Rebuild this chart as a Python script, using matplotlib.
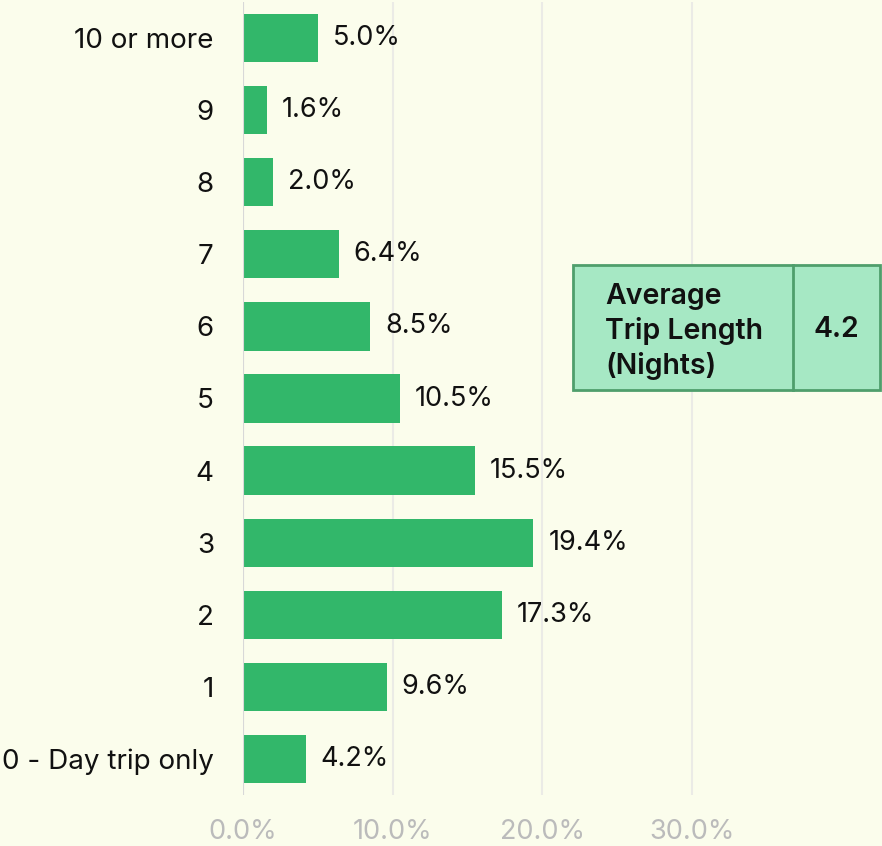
import matplotlib.pyplot as plt
from matplotlib.patches import Rectangle

plt.rcParams['font.family'] = ['Inter', 'DejaVu Sans']

categories = ["0 - Day trip only", "1", "2", "3", "4", "5", "6", "7", "8", "9", "10 or more"]
shares = [4.2, 9.6, 17.3, 19.4, 15.5, 10.5, 8.5, 6.4, 2.0, 1.6, 5.0]
ticks = [0, 10, 20, 30]
avg_label = "Average\nTrip Length\n(Nights)"
avg_value = "4.2"

bg = "#fbfdec"
bar_color = "#32b76a"

fig = plt.figure(figsize=(8.82, 8.46), dpi=100, facecolor=bg)
W, H = 882, 846
ax = fig.add_axes([243 / W, 1 - 795 / H, (W - 243) / W, (795 - 2) / H])
ax.set_facecolor(bg)

y = list(range(len(categories)))
ax.barh(y, shares, height=0.67, color=bar_color, zorder=3)
for yi, v in zip(y, shares):
    ax.text(v + 1.0, yi, f"{v:.1f}%", va="center", ha="left", fontsize=19.5, color="#111111")

ax.set_xlim(0, (W - 243) / 149.7 * 10)
ax.set_ylim(-0.5, 10.5)
ax.set_yticks(y)
ax.set_yticklabels(categories, fontsize=20, color="#111111")
ax.set_xticks(ticks)
ax.set_xticklabels([f"{t:.1f}%" for t in ticks], fontsize=19.5, color="#bbbbbb")
ax.tick_params(axis="y", length=0, pad=21)
ax.tick_params(axis="x", length=0, pad=17)
ax.grid(axis="x", color="#ebebe6", linewidth=1.5, zorder=0)
for s in ax.spines.values():
    s.set_visible(False)
ax.axvline(0, color="#d8d8d8", linewidth=1.5, zorder=4)

# summary box
x0, x1, xd, y0, y1 = 573, 880, 793, 265, 390
edge = "#4f9e6c"
fill = "#a6e8c4"
fig.patches.append(Rectangle((x0 / W, 1 - y1 / H), (x1 - x0) / W, (y1 - y0) / H,
                             transform=fig.transFigure, facecolor=fill, edgecolor=edge, linewidth=2, zorder=5))
fig.lines.append(plt.Line2D([xd / W, xd / W], [1 - y1 / H, 1 - y0 / H], transform=fig.transFigure,
                            color=edge, linewidth=2, zorder=6))
fig.text(605 / W, 1 - ((y0 + y1) / 2 + 4) / H, avg_label, ha="left", va="center", fontsize=20.5,
         fontweight="semibold", color="#111111", linespacing=1.32, zorder=7)
fig.text((xd + x1) / 2 / W, 1 - ((y0 + y1) / 2 + 2) / H, avg_value, ha="center", va="center", fontsize=20.5,
         fontweight="semibold", color="#111111", zorder=7)

fig.savefig("out.png", dpi=100, facecolor=bg)
